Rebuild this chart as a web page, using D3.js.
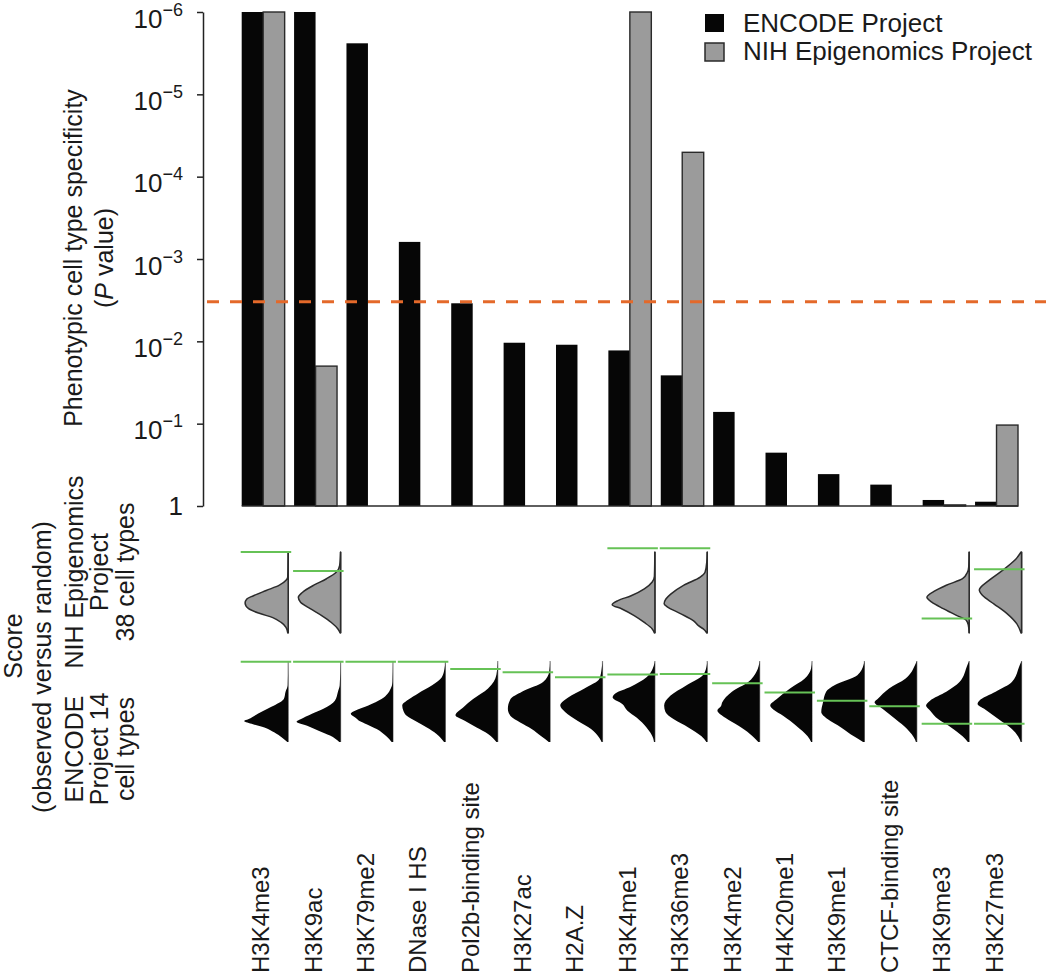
<!DOCTYPE html>
<html><head><meta charset="utf-8">
<script src="https://cdn.jsdelivr.net/npm/d3@7"></script>
<style>
html,body{margin:0;padding:0;background:#fff;}
svg text{font-family:"Liberation Sans",Arial,Helvetica,sans-serif;fill:#1a1a1a;}
</style></head><body>
<svg id="chart" width="1050" height="977"></svg>
<script>
// ---------- data ----------
const categories = ["H3K4me3","H3K9ac","H3K79me2","DNase I HS","Pol2b-binding site","H3K27ac","H2A.Z","H3K4me1","H3K36me3","H3K4me2","H4K20me1","H3K9me1","CTCF-binding site","H3K9me3","H3K27me3"];
const seriesNames = ["ENCODE Project","NIH Epigenomics Project"];
const encodeP = [1e-6,1e-6,2.4e-6,6.2e-4,3.45e-3,0.0104,0.011,0.0129,0.0259,0.072,0.225,0.41,0.55,0.845,0.887];
const nihP    = [1e-6,0.02,null,null,null,null,null,1e-6,5.06e-5,null,null,null,null,0.97,0.104];
const yTicks = [1,1e-1,1e-2,1e-3,1e-4,1e-5,1e-6];
const thresholdP = 0.0033;
// observed score, as fraction of each distribution's height measured from its top
const encodeScore = [0.01,0.01,0.01,0.01,0.1,0.14,0.2,0.167,0.16,0.275,0.39,0.49,0.56,0.775,0.775];
const nihScore    = [0.0,0.235,null,null,null,null,null,-0.045,-0.045,null,null,null,null,0.82,0.214];
// random-score distributions: [fraction from top, relative density]
const encodeDensity = [
 [[0,0],[.3,.01],[.38,.06],[.47,.1],[.55,.32],[.59,.47],[.65,.69],[.72,.91],[.74,1],[.78,.8],[.82,.54],[.88,.32],[.95,.13],[1,.02]],
 [[0,0],[.3,.02],[.38,.06],[.49,.13],[.59,.39],[.65,.65],[.72,.91],[.75,1],[.8,.76],[.86,.5],[.92,.24],[1,.03]],
 [[0,0],[.25,.01],[.34,.05],[.47,.26],[.55,.56],[.61,.85],[.65,.96],[.7,.85],[.74,.76],[.78,.6],[.84,.37],[.93,.15],[1,.03]],
 [[0,0],[.1,.02],[.2,.08],[.3,.3],[.4,.62],[.47,.82],[.55,.98],[.62,.95],[.68,.87],[.74,.68],[.82,.42],[.9,.2],[1,.03]],
 [[0,0],[.17,.03],[.34,.22],[.47,.56],[.57,.78],[.67,.96],[.74,.74],[.82,.48],[.9,.22],[1,.03]],
 [[0,0],[.13,.02],[.26,.16],[.38,.64],[.47,.9],[.59,.96],[.68,.9],[.76,.68],[.84,.42],[.93,.2],[1,.03]],
 [[0,0],[.1,.02],[.22,.07],[.34,.41],[.45,.78],[.55,.96],[.63,.85],[.74,.56],[.84,.26],[.95,.07],[1,.02]],
 [[0,0],[.05,.02],[.2,.19],[.32,.56],[.4,.9],[.45,.96],[.53,.74],[.61,.63],[.7,.41],[.82,.19],[.95,.04],[1,.02]],
 [[0,0],[.1,.03],[.175,.1],[.3,.47],[.43,.84],[.55,.98],[.63,.95],[.72,.76],[.82,.43],[.93,.13],[1,.02]],
 [[0,0],[.13,.07],[.26,.26],[.38,.63],[.51,.85],[.56,.88],[.61,.96],[.7,.78],[.8,.48],[.9,.22],[1,.03]],
 [[0,0],[.09,.02],[.22,.17],[.34,.5],[.47,.8],[.55,.95],[.6,.88],[.68,.65],[.8,.36],[.93,.1],[1,.02]],
 [[0,0],[.05,.02],[.175,.16],[.3,.68],[.38,.87],[.51,.94],[.63,.98],[.72,.83],[.82,.53],[.93,.24],[1,.03]],
 [[0,0],[.05,.04],[.22,.26],[.34,.63],[.47,.89],[.51,.96],[.59,.78],[.72,.48],[.84,.22],[.97,.04],[1,.02]],
 [[0,0],[.05,.04],[.26,.22],[.38,.52],[.49,.89],[.55,.98],[.61,.89],[.72,.7],[.82,.41],[.93,.15],[1,.03]],
 [[0,0],[.05,.04],[.26,.22],[.38,.59],[.49,.96],[.53,1],[.59,.85],[.72,.52],[.84,.22],[.97,.04],[1,.02]]
];
const nihDensity = [
 [[0,0],[.31,.01],[.35,.05],[.41,.2],[.475,.5],[.54,.79],[.58,.94],[.63,.98],[.7,.9],[.76,.64],[.81,.35],[.87,.16],[.93,.05],[1,.01]],
 [[0,0],[.165,.02],[.25,.1],[.33,.32],[.41,.61],[.5,.87],[.56,.96],[.62,.91],[.7,.69],[.785,.43],[.87,.21],[.95,.06],[1,.01]],
 null,null,null,null,null,
 [[0,0],[.3,.01],[.37,.06],[.455,.24],[.54,.54],[.6,.84],[.65,.97],[.7,.76],[.785,.47],[.87,.24],[.95,.06],[1,.01]],
 [[0,0],[.12,.01],[.25,.05],[.31,.16],[.41,.53],[.52,.83],[.58,.94],[.64,.98],[.68,.9],[.76,.61],[.85,.31],[.91,.2],[.95,.09],[1,.01]],
 null,null,null,null,
 [[0,0],[.185,.01],[.25,.04],[.33,.15],[.41,.52],[.49,.81],[.56,.96],[.62,.85],[.7,.59],[.78,.3],[.84,.07],[.9,.02],[1,0]],
 [[0,.01],[.1,.15],[.23,.44],[.35,.74],[.47,.96],[.535,.89],[.64,.63],[.76,.33],[.885,.11],[1,.01]]
];

// ---------- layout ----------
const svg = d3.select("#chart");
const FONT = 25;
const baseY = 506, topY = 12, axisX = 203;
const x0 = d3.scaleBand().domain(categories).range([241.7, 1018]).paddingInner(0.18).paddingOuter(0);
const x1 = d3.scaleBand().domain(seriesNames).range([0, x0.bandwidth()]);
const y = d3.scaleLog().domain([1, 1e-6]).range([baseY, topY]);
const colors = {"ENCODE Project":"#060606","NIH Epigenomics Project":"#9b9b9b"};

// bars
const barData = [];
categories.forEach((cat,i)=>{
  barData.push({cat:cat, s:seriesNames[0], v:encodeP[i]});
  if (nihP[i] != null) barData.push({cat:cat, s:seriesNames[1], v:nihP[i]});
});
svg.append("g").selectAll("rect").data(barData).join("rect")
  .attr("x", d=>x0(d.cat)+x1(d.s))
  .attr("width", x1.bandwidth())
  .attr("y", d=>y(d.v))
  .attr("height", d=>baseY - y(d.v))
  .attr("fill", d=>colors[d.s])
  .attr("stroke", d=>d.s===seriesNames[1] ? "#2a2a2a" : "none")
  .attr("stroke-width", 1.4);

// baseline
svg.append("line").attr("x1", x0.range()[0]).attr("x2", x0.range()[1])
  .attr("y1", baseY).attr("y2", baseY).attr("stroke","#2a2a2a").attr("stroke-width",1.5);

// threshold
svg.append("line").attr("x1",207).attr("x2",1046)
  .attr("y1", y(thresholdP)).attr("y2", y(thresholdP))
  .attr("stroke","#e4692a").attr("stroke-width",3).attr("stroke-dasharray","12,11");

// y axis
const yAxis = d3.axisLeft(y).tickValues(yTicks).tickSize(6).tickSizeOuter(0).tickFormat("");
const ga = svg.append("g").attr("transform",`translate(${axisX},0)`).call(yAxis);
ga.select(".domain").attr("stroke","#222").attr("stroke-width",1.5);
ga.selectAll(".tick line").attr("stroke","#222").attr("stroke-width",1.5);
ga.selectAll(".tick").each(function(v){
  const e = Math.round(Math.log10(v));
  const t = d3.select(this).append("text").attr("x",-20).attr("text-anchor","end")
    .attr("font-size",26).attr("fill","#1a1a1a");
  if (e === 0) { t.attr("y",8).text("1"); }
  else {
    t.attr("y",15);
    t.append("tspan").text("10");
    t.append("tspan").attr("font-size",18).attr("dy",-12).text("\u2212"+Math.abs(e));
  }
});

// y label
svg.append("text").attr("transform","translate(82,258) rotate(-90)").attr("text-anchor","middle")
  .attr("font-size",FONT).text("Phenotypic cell type specificity");
const pl = svg.append("text").attr("transform","translate(113,258) rotate(-90)").attr("text-anchor","middle")
  .attr("font-size",FONT);
pl.append("tspan").text("(");
pl.append("tspan").attr("font-style","italic").text("P");
pl.append("tspan").text(" value)");

// legend
const lg = svg.append("g");
seriesNames.forEach((s,i)=>{
  lg.append("rect").attr("x",705).attr("y",14+i*29).attr("width",19).attr("height",18)
    .attr("fill",colors[s]).attr("stroke",i?"#2a2a2a":"none").attr("stroke-width",1.5);
  lg.append("text").attr("x",743).attr("y",32+i*28).attr("font-size",26).text(s);
});

// ---------- score distributions ----------
const W = 44, H = 81;
const rows = [
  {top:552, dens:nihDensity, score:nihScore, fill:"#9b9b9b", stroke:"#2b2b2b", vline:"#333", vw:1.5},
  {top:661, dens:encodeDensity, score:encodeScore, fill:"#060606", stroke:"none", vline:"#8a8a8a", vw:1.2}
];
rows.forEach(r=>{
  const g = svg.append("g");
  categories.forEach((cat,i)=>{
    const d = r.dens[i]; if (!d) return;
    const lx = x0(cat) + 46.5;
    g.append("line").attr("x1",lx).attr("x2",lx).attr("y1",r.top).attr("y2",r.top+H)
      .attr("stroke",r.vline).attr("stroke-width",r.vw);
    const area = d3.area().curve(d3.curveMonotoneY)
      .y(p=>r.top + p[0]*H).x0(lx).x1(p=>lx - p[1]*W);
    g.append("path").attr("d",area(d)).attr("fill",r.fill)
      .attr("stroke",r.stroke).attr("stroke-width",1.5).attr("stroke-linejoin","round");
  });
  categories.forEach((cat,i)=>{
    const s = r.score[i]; if (s == null) return;
    const yy = r.top + s*H;
    g.append("line").attr("x1",x0(cat)-1).attr("x2",x0(cat)+49.5).attr("y1",yy).attr("y2",yy)
      .attr("stroke","#66c256").attr("stroke-width",2);
  });
});

// lower left labels
function vtext(x,yc,str){
  svg.append("text").attr("transform",`translate(${x},${yc}) rotate(-90)`).attr("text-anchor","middle")
    .attr("font-size",FONT).text(str);
}
vtext(22,646,"Score");
vtext(51,667,"(observed versus random)");
vtext(83,572,"NIH Epigenomics");
vtext(108,572,"Project");
vtext(134,572,"38 cell types");
vtext(83,749,"ENCODE");
vtext(108,749,"Project 14");
vtext(134,749,"cell types");

// category labels
svg.append("g").selectAll("text").data(categories).join("text")
  .attr("transform", d=>`translate(${x0(d)+x0.bandwidth()/2+6},973) rotate(-90)`)
  .attr("font-size",24).attr("text-anchor","start").text(d=>d);
</script>
</body></html>
